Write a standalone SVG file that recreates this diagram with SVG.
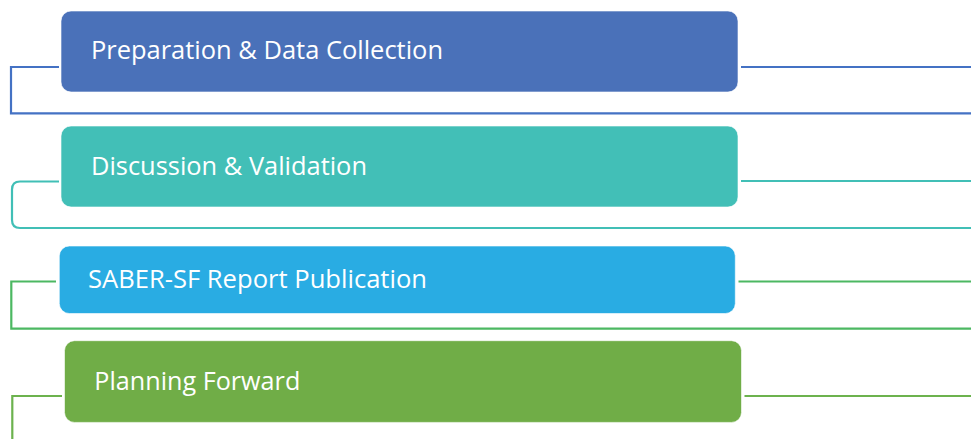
<svg xmlns="http://www.w3.org/2000/svg" width="971" height="439" viewBox="0 0 971 439">
<style>
.lbl{font-family:"Open Sans","Liberation Sans",sans-serif;font-size:25px;fill:#ffffff}
.ln{fill:none;stroke-width:2.2}
.box{stroke:#ffffff;stroke-width:1;stroke-opacity:0.6}
</style>
<rect width="971" height="439" fill="#ffffff"/>
<g id="connectors">
<path class="ln" stroke="#4472C4" d="M59 67 H11 V113.3 H971"/>
<path class="ln" stroke="#4472C4" d="M741 67 H971"/>
<path class="ln" stroke="#41BFB6" d="M59 181.5 H20 Q12 181.5 12 189.5 V220 Q12 228 20 228 H971"/>
<path class="ln" stroke="#41BFB6" d="M741 181 H971"/>
<path class="ln" stroke="#4CB862" d="M56 281.5 H11.3 V328.7 H971"/>
<path class="ln" stroke="#4CB862" d="M738.5 281.5 H971"/>
<path class="ln" stroke="#6CB24E" d="M62 396 H12.3 V439"/>
<path class="ln" stroke="#6CB24E" d="M744.5 396 H971"/>
</g>
<g id="node1">
<rect class="box" x="61" y="11" width="677" height="81" rx="10" fill="#4A71B9"/>
<text class="lbl" x="91" y="59.3" textLength="352" lengthAdjust="spacingAndGlyphs">Preparation &amp; Data Collection</text>
</g>
<g id="node2">
<rect class="box" x="61" y="126" width="677" height="81" rx="10" fill="#42BFB7"/>
<text class="lbl" x="91" y="175" textLength="276" lengthAdjust="spacingAndGlyphs">Discussion &amp; Validation</text>
</g>
<g id="node3">
<rect class="box" x="59.3" y="246" width="676" height="67.5" rx="10" fill="#29ACE3"/>
<text class="lbl" x="88" y="288.3" textLength="339" lengthAdjust="spacingAndGlyphs">SABER-SF Report Publication</text>
</g>
<g id="node4">
<rect class="box" x="64.5" y="340.7" width="677" height="81.7" rx="10" fill="#70AD47"/>
<text class="lbl" x="94.3" y="390" textLength="206" lengthAdjust="spacingAndGlyphs">Planning Forward</text>
</g>
</svg>
